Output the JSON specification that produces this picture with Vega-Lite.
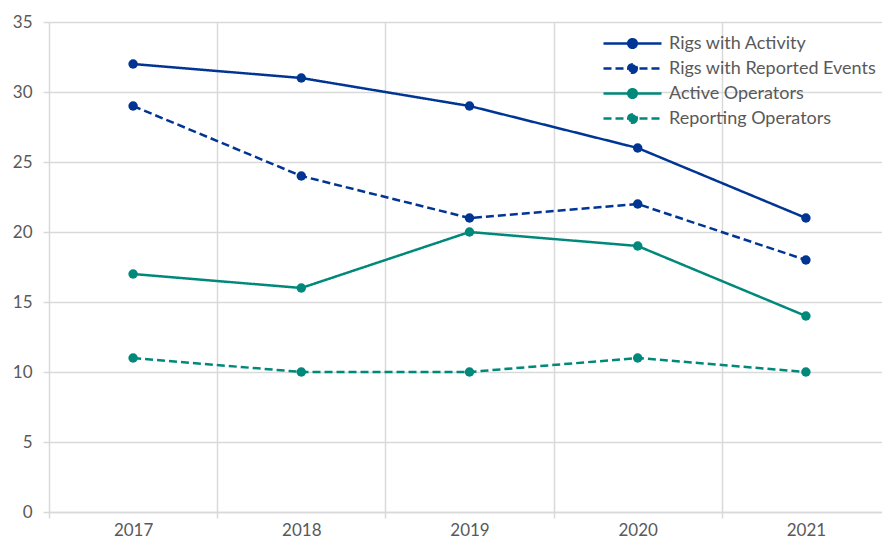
{
  "$schema": "https://vega.github.io/schema/vega-lite/v6.json",
  "width": 833,
  "height": 490,
  "autosize": "none",
  "padding": {"left": 49, "top": 22, "right": 0, "bottom": 32},
  "background": "white",
  "config": {
    "view": {"stroke": null},
    "font": "Lato"
  },
  "data": {
    "values": [
      {"year": "2017", "series": "Rigs with Activity", "value": 32},
      {"year": "2018", "series": "Rigs with Activity", "value": 31},
      {"year": "2019", "series": "Rigs with Activity", "value": 29},
      {"year": "2020", "series": "Rigs with Activity", "value": 26},
      {"year": "2021", "series": "Rigs with Activity", "value": 21},
      {"year": "2017", "series": "Rigs with Reported Events", "value": 29},
      {"year": "2018", "series": "Rigs with Reported Events", "value": 24},
      {"year": "2019", "series": "Rigs with Reported Events", "value": 21},
      {"year": "2020", "series": "Rigs with Reported Events", "value": 22},
      {"year": "2021", "series": "Rigs with Reported Events", "value": 18},
      {"year": "2017", "series": "Active Operators", "value": 17},
      {"year": "2018", "series": "Active Operators", "value": 16},
      {"year": "2019", "series": "Active Operators", "value": 20},
      {"year": "2020", "series": "Active Operators", "value": 19},
      {"year": "2021", "series": "Active Operators", "value": 14},
      {"year": "2017", "series": "Reporting Operators", "value": 11},
      {"year": "2018", "series": "Reporting Operators", "value": 10},
      {"year": "2019", "series": "Reporting Operators", "value": 10},
      {"year": "2020", "series": "Reporting Operators", "value": 11},
      {"year": "2021", "series": "Reporting Operators", "value": 10}
    ]
  },
  "encoding": {
    "x": {
      "field": "year",
      "type": "nominal",
      "scale": {"type": "band", "range": [0, 841], "paddingInner": 0, "paddingOuter": 0},
      "axis": {
        "title": null,
        "labelAngle": 0,
        "labelFontSize": 17,
        "labelColor": "#595959",
        "labelPadding": 4,
        "tickBand": "extent",
        "tickSize": 6,
        "tickColor": "#d9d9d9",
        "tickWidth": 1.5,
        "domainColor": "#d9d9d9",
        "domainWidth": 1.5,
        "grid": true,
        "gridColor": "#d9d9d9",
        "gridWidth": 1.5
      }
    },
    "y": {
      "field": "value",
      "type": "quantitative",
      "scale": {"domain": [0, 35], "nice": false},
      "axis": {
        "title": null,
        "values": [0, 5, 10, 15, 20, 25, 30, 35],
        "labelFontSize": 17,
        "labelColor": "#595959",
        "labelPadding": 11,
        "tickSize": 6,
        "tickColor": "#d9d9d9",
        "tickWidth": 1.5,
        "domain": false,
        "grid": true,
        "gridColor": "#d9d9d9",
        "gridWidth": 1.5
      }
    },
    "color": {
      "field": "series",
      "type": "nominal",
      "scale": {
        "domain": ["Rigs with Activity", "Rigs with Reported Events", "Active Operators", "Reporting Operators"],
        "range": ["#003594", "#003594", "#00897b", "#00897b"]
      },
      "legend": {
        "title": null,
        "orient": "none",
        "legendX": 553,
        "legendY": 10,
        "symbolType": "M-1,0H4.8M2.33,0A0.43,0.43,0,1,1,1.47,0A0.43,0.43,0,1,1,2.33,0Z",
        "symbolSize": 400,
        "symbolStrokeWidth": 2.5,
        "labelFontSize": 18,
        "labelColor": "#595959",
        "labelOffset": 44,
        "labelLimit": 400,
        "rowPadding": 4,
        "encode": {
          "symbols": {"update": {"fill": {"scale": "color", "field": "value"}, "strokeWidth": {"value": 2.5}}}
        }
      }
    }
  },
  "layer": [
    {
      "mark": {"type": "line", "strokeWidth": 2.5},
      "encoding": {
        "strokeDash": {
          "field": "series",
          "type": "nominal",
          "scale": {
            "domain": ["Rigs with Activity", "Rigs with Reported Events", "Active Operators", "Reporting Operators"],
            "range": [[1, 0], [8, 4], [1, 0], [8, 4]]
          },
          "legend": {
            "title": null,
            "orient": "none",
            "legendX": 553,
            "legendY": 10,
            "symbolType": "M-1,0H4.8M2.33,0A0.43,0.43,0,1,1,1.47,0A0.43,0.43,0,1,1,2.33,0Z",
            "symbolSize": 400,
            "symbolStrokeWidth": 2.5,
            "labelFontSize": 18,
            "labelColor": "#595959",
            "labelOffset": 44,
            "labelLimit": 400,
            "rowPadding": 4
          }
        }
      }
    },
    {
      "mark": {"type": "point", "filled": true, "size": 90, "opacity": 1, "shape": "circle"}
    }
  ]
}
